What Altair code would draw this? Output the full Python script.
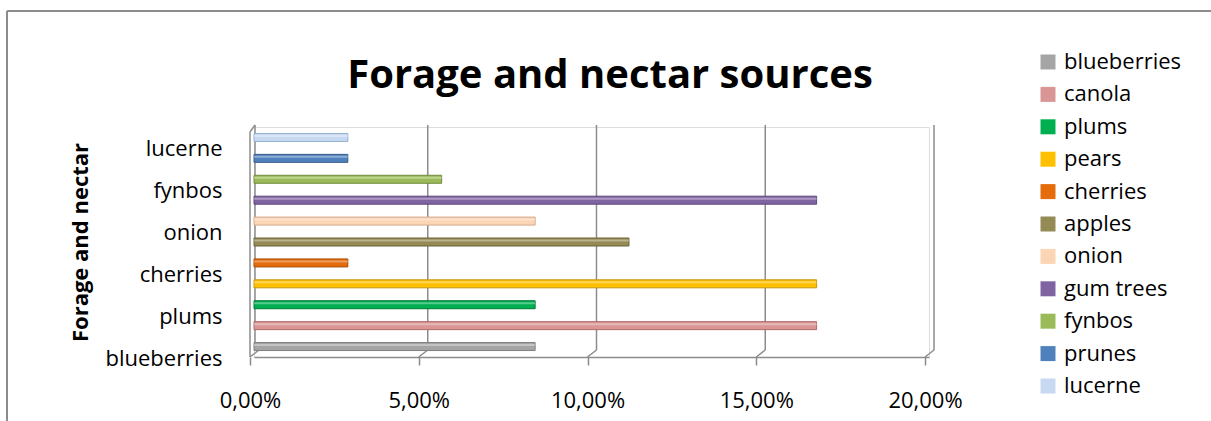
import altair as alt
import pandas as pd

# Forage and nectar sources, share of the total
sources = ["blueberries", "canola", "plums", "pears", "cherries", "apples",
           "onion", "gum trees", "fynbos", "prunes", "lucerne"]
shares = [0.0833, 0.1667, 0.0833, 0.1667, 0.0278, 0.1111,
          0.0833, 0.1667, 0.0556, 0.0278, 0.0278]
fills = ["#A5A5A5", "#D99694", "#00B050", "#FFC000", "#E46C0A", "#948A54",
         "#FCD5B5", "#8064A2", "#9BBB59", "#4F81BD", "#C6D9F1"]
edges = ["#7F7F7F", "#B06A68", "#007A3A", "#C89600", "#A94E05", "#6B633A",
         "#D3A989", "#5C4777", "#718A3E", "#385D8A", "#95AFCF"]
axis_ticks = [0.0, 0.05, 0.10, 0.15, 0.20]
chart_title = ["Forage and nectar sources"]

FONT = "Open Sans"
GRID = "#8C8C8C"
W, H = 675, 230

df = pd.DataFrame({"source": sources, "share": shares})
ticks = pd.DataFrame({"t": axis_ticks})
one = pd.DataFrame({"k": [0]})
title_df = pd.DataFrame({"text": chart_title})

xscale = alt.Scale(domain=[0, 0.2], nice=False, zero=True)
order_top_down = sources[::-1]

x_enc = alt.X(
    "share:Q", scale=xscale,
    axis=alt.Axis(
        values=axis_ticks, grid=False, domain=True, domainColor=GRID,
        domainWidth=1.5, ticks=True, tickColor=GRID, tickWidth=1.5,
        tickSize=8, tickOffset=-4, labelPadding=25, labelFontSize=22,
        labelFont=FONT, labelColor="#000000", labelFlush=False,
        labelExpr="replace(format(datum.value, '.2%'), '.', ',')",
        title=None,
    ),
)
y_enc = alt.Y(
    "source:N", sort=order_top_down,
    scale=alt.Scale(paddingInner=0, paddingOuter=0),
    axis=alt.Axis(
        values=sources[::2], domain=False, ticks=False, grid=False,
        labelFontSize=22, labelFont=FONT, labelColor="#000000",
        labelPadding=32, labelOffset=12,
        title="Forage and nectar", titleFont=FONT, titleFontSize=22,
        titleFontWeight="bold", titleColor="#000000", titleAngle=-90,
        titleX=-174, titleY=H / 2, titleBaseline="middle", titleAlign="center",
    ),
)

# back wall gridlines and their slanted joins to the front floor line
back_lines = alt.Chart(ticks).transform_filter("datum.t > 0").mark_rule(
    color=GRID, strokeWidth=1.5, xOffset=5, x2Offset=5
).encode(x=alt.X("t:Q", scale=xscale), y=alt.value(-2), y2=alt.value(223))

back_zero = alt.Chart(ticks).transform_filter("datum.t == 0").mark_rule(
    color=GRID, strokeWidth=1.5, xOffset=1, x2Offset=1
).encode(x=alt.X("t:Q", scale=xscale), y=alt.value(-2), y2=alt.value(223))

joins = alt.Chart(ticks).mark_rule(
    color=GRID, strokeWidth=1.5, xOffset=5, x2Offset=-4
).encode(x=alt.X("t:Q", scale=xscale), x2="t:Q",
         y=alt.value(223), y2=alt.value(230))

front_wall = alt.Chart(ticks).transform_filter("datum.t == 0").mark_rule(
    color=GRID, strokeWidth=1.5, xOffset=-4, x2Offset=-4
).encode(x=alt.X("t:Q", scale=xscale), y=alt.value(5), y2=alt.value(230))

wall_top = alt.Chart(ticks).transform_filter("datum.t == 0").mark_rule(
    color=GRID, strokeWidth=1.5, xOffset=-4, x2Offset=1
).encode(x=alt.X("t:Q", scale=xscale), x2="t:Q",
         y=alt.value(5), y2=alt.value(-2))

bars = alt.Chart(df).mark_bar(size=8, strokeWidth=1).encode(
    x=x_enc,
    y=y_enc,
    color=alt.Color(
        "source:N", sort=sources,
        scale=alt.Scale(domain=sources, range=fills),
        legend=alt.Legend(
            title=None, orient="none", legendX=783, legendY=-76,
            symbolType="square", symbolSize=225, symbolStrokeWidth=0,
            labelFont=FONT, labelFontSize=22, labelColor="#000000",
            labelOffset=5, rowPadding=10.4, padding=0,
        ),
    ),
    stroke=alt.Stroke("source:N", scale=alt.Scale(domain=sources, range=edges),
                      legend=None),
)

shine = alt.Chart(df).mark_bar(size=2, color="#FFFFFF", opacity=0.35,
                               yOffset=-1.5).encode(
    x=alt.X("share:Q", scale=xscale), y=alt.Y("source:N", sort=order_top_down)
)

title_mark = alt.Chart(title_df).mark_text(
    font=FONT, fontSize=40, fontWeight="bold", color="#000000",
    align="center", baseline="alphabetic",
).encode(text="text:N", x=alt.value(356), y=alt.value(-39))

# outer chart frame
frame_top = alt.Chart(one).mark_rule(color="#8C8C8C", strokeWidth=2).encode(
    x=alt.value(-247), x2=alt.value(960), y=alt.value(-116)
)
frame_left = alt.Chart(one).mark_rule(color="#8C8C8C", strokeWidth=2).encode(
    x=alt.value(-247), y=alt.value(-116), y2=alt.value(300)
)

chart = alt.layer(
    frame_top, frame_left, back_lines, back_zero, joins, front_wall, wall_top,
    bars, shine, title_mark,
).properties(
    width=W, height=H,
    padding={"left": 254, "top": 127, "right": 282, "bottom": 64},
    autosize=alt.AutoSizeParams(type="none"),
).configure_view(stroke=None).configure(background="#FFFFFF")

chart.save("out.html", embed_options={"renderer": "svg", "actions": False})
